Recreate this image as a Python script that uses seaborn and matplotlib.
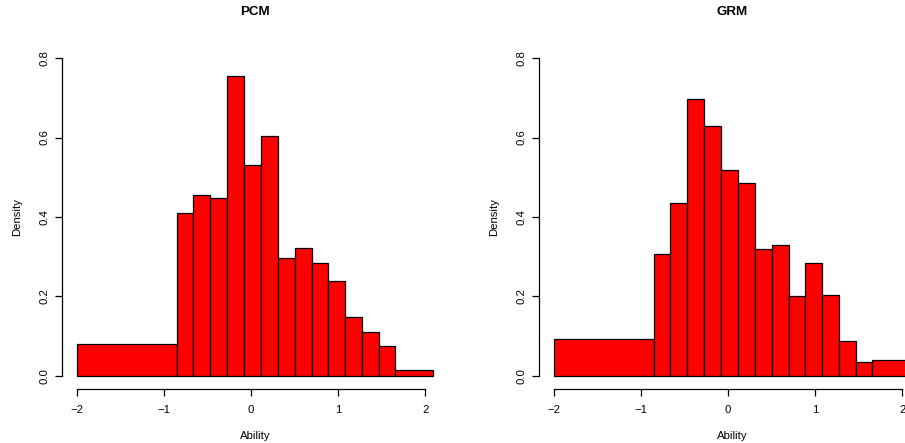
import matplotlib
matplotlib.use("Agg")
import matplotlib.pyplot as plt
import seaborn as sns
import numpy as np

# bin breaks (shared by both panels) and densities
breaks = [-2.0, -0.85, -0.66, -0.465, -0.27, -0.075, 0.115, 0.31, 0.505,
          0.70, 0.885, 1.08, 1.275, 1.465, 1.655, 2.09]
pcm_density = [0.081, 0.411, 0.455, 0.447, 0.755, 0.530, 0.605, 0.298,
               0.321, 0.284, 0.239, 0.148, 0.111, 0.075, 0.015]
grm_density = [0.093, 0.307, 0.434, 0.696, 0.628, 0.517, 0.486, 0.320,
               0.330, 0.201, 0.284, 0.205, 0.088, 0.036, 0.040]
titles = ["PCM", "GRM"]
x_ticks = [-2, -1, 0, 1, 2]
y_ticks = [0.0, 0.2, 0.4, 0.6, 0.8]

sns.set_style("ticks")
plt.rcParams['font.family'] = ['Liberation Sans', 'DejaVu Sans']
plt.rcParams['axes.unicode_minus'] = True
plt.rcParams['text.color'] = 'black'
plt.rcParams['axes.labelcolor'] = 'black'

fig = plt.figure(figsize=(9.05, 4.43), dpi=100)
W, H = 905, 443

def add_panel(left_px, density, title):
    ax = fig.add_axes([left_px / W, (H - 388.7) / H, 385.3 / W, 343.4 / H])
    centers = [(breaks[i] + breaks[i + 1]) / 2 for i in range(len(density))]
    sns.histplot(x=centers, weights=density, bins=breaks, stat="count",
                 color="red", edgecolor="black", linewidth=0.9, alpha=1,
                 ax=ax)
    ax.set_xlim(-2.164, 2.254)
    ax.set_ylim(-0.032, 0.832)
    ax.set_xticks(x_ticks)
    ax.set_xticklabels(["\u22122", "\u22121", "0", "1", "2"])
    ax.set_yticks(y_ticks)
    ax.set_yticklabels(["0.0", "0.2", "0.4", "0.6", "0.8"], rotation=90,
                       va="center")
    for s in ["top", "right"]:
        ax.spines[s].set_visible(False)
    ax.spines["left"].set_bounds(0, 0.8)
    ax.spines["bottom"].set_bounds(-2, 2)
    for s in ["left", "bottom"]:
        ax.spines[s].set_linewidth(0.9)
        ax.spines[s].set_color("black")
    ax.tick_params(axis="both", direction="out", length=5, width=0.9,
                   labelsize=8.2, colors="black", bottom=True, left=True)
    ax.tick_params(axis="x", pad=6.5)
    ax.tick_params(axis="y", pad=4)
    ax.set_xlabel("Ability", fontsize=8.2, color="black")
    ax.set_ylabel("Density", fontsize=8.2, color="black")
    ax.xaxis.set_label_coords(0.5, -0.124)
    ax.yaxis.set_label_coords(-0.105, 0.5)
    ax.set_title(title, fontsize=9.6, fontweight="bold", pad=21.5,
                 color="black")
    ax.grid(False)
    return ax

add_panel(62.3, pcm_density, titles[0])
add_panel(539.3, grm_density, titles[1])

fig.savefig("out.png", dpi=100)
